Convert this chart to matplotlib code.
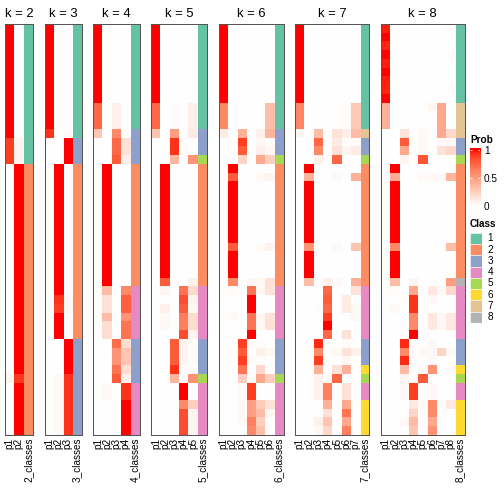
import numpy as np
import matplotlib
matplotlib.use("Agg")
import matplotlib.pyplot as plt

plt.rcParams['font.family'] = ['Liberation Sans', 'DejaVu Sans']

# class colours (RColorBrewer Set2)
class_colors = ["#66C2A5", "#FC8D62", "#8DA0CB", "#E78AC3",
                "#A6D854", "#FFD92F", "#E5C494", "#B3B3B3"]
class_labels = ["1", "2", "3", "4", "5", "6", "7", "8"]

# membership probabilities, one row per sample (top to bottom), columns p1..pk
prob_k2 = ([[1, 0]] * 13 + [[0.9, 0.05]] * 3 + [[0, 1]] * 24
           + [[0.05, 0.92]] + [[0, 1]] * 6)
class_k2 = [1] * 16 + [2] * 31

prob_k3 = ([[1, 0, 0]] * 12 + [[0.93, 0, 0.03]] + [[0, 0, 1]] * 3
           + [[0, 1, 0]] * 15 + [[0, 0.93, 0.03], [0, 0.9, 0.04]]
           + [[0, 1, 0]] * 3 + [[0, 0, 1]] * 4 + [[0, 0.03, 0.93]] * 7)
class_k3 = [1] * 13 + [3] * 3 + [2] * 20 + [3] * 11

prob_k4 = ([[1, 0, 0, 0]] * 9 + [[0.75, 0, 0.08, 0]] * 3 + [[0.3, 0, 0.6, 0]]
           + [[0, 0, 0.75, 0.15]] * 2 + [[0, 0, 0.8, 0.08]]
           + [[0, 1, 0, 0]] * 14
           + [[0, 0.35, 0, 0.6], [0, 0.15, 0, 0.78], [0, 0.15, 0, 0.78],
              [0, 0.35, 0, 0.55], [0, 0.17, 0, 0.7], [0, 0.17, 0, 0.7]]
           + [[0, 0, 0.72, 0.17], [0, 0, 0.55, 0.3], [0, 0, 0.55, 0.3],
              [0, 0, 0.7, 0.17], [0, 0, 0.8, 0.07]]
           + [[0, 0.03, 0, 0.93]] * 2 + [[0, 0, 0, 1]] * 4)
class_k4 = [1] * 12 + [3] * 4 + [2] * 14 + [4] * 6 + [3] * 5 + [4] * 6

prob_k5 = ([[1, 0, 0, 0, 0]] * 9 + [[0.75, 0, 0.02, 0, 0.08]] * 3
           + [[0.3, 0, 0.5, 0, 0.1]] + [[0, 0, 0.93, 0.02, 0]] * 2
           + [[0, 0, 0.38, 0, 0.55]] + [[0, 1, 0, 0, 0]] * 13
           + [[0, 0.8, 0, 0, 0.07]]
           + [[0, 0.05, 0, 0.7, 0.2], [0, 0, 0, 0.85, 0.06], [0, 0.07, 0, 0.8, 0.04],
              [0, 0.03, 0, 0.65, 0.18], [0, 0.03, 0, 0.65, 0.18], [0, 0, 0, 0.85, 0.06]]
           + [[0, 0, 0.8, 0.06, 0.02]] * 3 + [[0, 0, 0.93, 0.02, 0]]
           + [[0, 0, 0.38, 0, 0.55]] + [[0, 0, 0, 1, 0]] * 2
           + [[0, 0, 0, 0.6, 0.25]] + [[0, 0, 0, 0.85, 0.05]] * 3)
class_k5 = [1] * 12 + [3] * 3 + [5] + [2] * 14 + [4] * 6 + [3] * 4 + [5] + [4] * 6

prob_k6 = ([[1, 0, 0, 0, 0, 0]] * 9 + [[0.6, 0, 0, 0, 0, 0.33]] * 3
           + [[0.1, 0, 0.4, 0, 0.07, 0.38]] + [[0, 0, 0.9, 0, 0.04, 0.02]]
           + [[0, 0, 0.8, 0, 0.08, 0.04]] + [[0, 0, 0.22, 0, 0.45, 0.25]]
           + [[0, 1, 0, 0, 0, 0]] + [[0, 0.8, 0, 0, 0.03, 0.06]]
           + [[0, 1, 0, 0, 0, 0]] * 7 + [[0, 0.8, 0, 0, 0.02, 0.06]]
           + [[0, 1, 0, 0, 0, 0]] * 3 + [[0, 0.6, 0, 0.05, 0.04, 0.15]]
           + [[0, 0.02, 0, 0.7, 0.04, 0.15]] + [[0, 0, 0, 1, 0, 0]] * 2
           + [[0, 0.03, 0, 0.7, 0.04, 0.15], [0, 0, 0, 0.7, 0.04, 0.15]]
           + [[0, 0, 0, 1, 0, 0]]
           + [[0, 0, 0.9, 0.02, 0.02, 0], [0, 0, 0.8, 0, 0.08, 0.04],
              [0, 0, 0.9, 0.02, 0.02, 0], [0, 0, 0.7, 0, 0.2, 0]]
           + [[0, 0, 0.25, 0, 0.45, 0.25]] + [[0, 0, 0.03, 0.9, 0, 0]] * 2
           + [[0, 0, 0.03, 0.5, 0.27, 0.15], [0, 0, 0.03, 0.5, 0.35, 0.04],
              [0, 0, 0.03, 0.65, 0.25, 0], [0, 0, 0, 0.6, 0.33, 0]])
class_k6 = [1] * 12 + [3] * 3 + [5] + [2] * 14 + [4] * 6 + [3] * 4 + [5] + [4] * 6

prob_k7 = ([[1, 0, 0, 0, 0, 0, 0]] * 9 + [[0.62, 0, 0, 0, 0, 0.02, 0.28]] * 3
           + [[0.05, 0, 0.35, 0, 0.15, 0.08, 0.35]]
           + [[0, 0, 0.75, 0, 0.1, 0.02, 0.02]] + [[0, 0, 0.6, 0, 0.15, 0.05, 0.1]]
           + [[0, 0, 0.07, 0, 0.75, 0, 0]]
           + [[0, 1, 0, 0, 0, 0, 0]] + [[0, 0.4, 0, 0, 0.03, 0, 0.4]]
           + [[0, 1, 0, 0, 0, 0, 0]] * 7 + [[0, 0.55, 0, 0, 0.03, 0, 0.3]]
           + [[0, 1, 0, 0, 0, 0, 0]] * 3 + [[0, 0.35, 0, 0.07, 0.03, 0, 0.4]]
           + [[0, 0, 0, 0.75, 0, 0, 0.15], [0, 0, 0, 0.8, 0, 0.1, 0],
              [0, 0, 0.02, 0.75, 0, 0.1, 0.04], [0, 0, 0, 0.9, 0, 0, 0.04],
              [0, 0, 0, 1, 0, 0, 0], [0, 0, 0, 0.75, 0, 0.15, 0]]
           + [[0, 0, 0.95, 0, 0, 0.02, 0], [0, 0, 0.6, 0, 0.04, 0.15, 0.07],
              [0, 0, 0.9, 0, 0, 0.04, 0]]
           + [[0, 0, 0.4, 0, 0.15, 0.4, 0]] + [[0, 0, 0.07, 0, 0.75, 0, 0]]
           + [[0, 0, 0.07, 0.65, 0, 0.15, 0]] * 2
           + [[0, 0, 0, 0.4, 0, 0.45, 0.02], [0, 0, 0, 0.15, 0, 0.7, 0],
              [0, 0, 0.07, 0.3, 0, 0.45, 0], [0, 0, 0.04, 0.2, 0, 0.65, 0]])
class_k7 = ([1] * 12 + [7] + [3] * 2 + [5] + [2] * 14 + [4] * 6 + [3] * 3
            + [6] + [5] + [4] * 2 + [6] * 4)

prob_k8 = ([[0.97, 0, 0, 0, 0, 0, 0, 0.02], [1, 0, 0, 0, 0, 0, 0, 0],
            [0.96, 0, 0, 0, 0, 0, 0, 0], [1, 0, 0, 0, 0, 0, 0, 0.02],
            [0.97, 0, 0, 0, 0, 0, 0, 0], [1, 0, 0, 0, 0, 0, 0, 0],
            [0.97, 0, 0, 0, 0, 0, 0, 0], [0.96, 0, 0, 0, 0, 0, 0, 0.02],
            [1, 0, 0, 0, 0, 0, 0, 0]]
           + [[0.4, 0, 0, 0, 0, 0.05, 0.45, 0]] + [[0.4, 0, 0, 0, 0, 0, 0.45, 0]] * 2
           + [[0, 0, 0.15, 0, 0.03, 0, 0.45, 0.2]]
           + [[0, 0, 0.8, 0, 0.03, 0, 0.03, 0.03]]
           + [[0, 0, 0.45, 0, 0.03, 0, 0.15, 0.2]]
           + [[0, 0, 0.05, 0, 0.82, 0, 0, 0]]
           + [[0, 1, 0, 0, 0, 0, 0, 0]] + [[0, 0.42, 0, 0, 0.03, 0.03, 0.03, 0.38]]
           + [[0, 1, 0, 0, 0, 0, 0, 0]] * 7 + [[0, 0.6, 0, 0, 0, 0, 0, 0.35]]
           + [[0, 1, 0, 0, 0, 0, 0, 0]] * 3 + [[0, 0.35, 0, 0.05, 0, 0, 0, 0.5]]
           + [[0, 0.02, 0, 0.45, 0, 0.12, 0.03, 0.2], [0, 0, 0.02, 0.93, 0, 0.03, 0, 0],
              [0, 0.03, 0, 0.93, 0, 0, 0, 0], [0, 0, 0, 0.6, 0, 0.12, 0.03, 0.12],
              [0, 0, 0, 0.6, 0, 0.12, 0.03, 0.12], [0, 0, 0, 1, 0, 0, 0, 0]]
           + [[0, 0, 0.95, 0, 0, 0.03, 0, 0], [0, 0, 0.6, 0, 0.03, 0.03, 0.22, 0.03],
              [0, 0, 0.95, 0, 0, 0.03, 0, 0]]
           + [[0, 0, 0.35, 0, 0.03, 0.55, 0, 0.03]] + [[0, 0, 0.05, 0, 0.8, 0, 0, 0]]
           + [[0, 0, 0.03, 0.9, 0, 0.03, 0, 0]] * 2
           + [[0, 0, 0, 0.12, 0.03, 0.6, 0, 0.12], [0, 0, 0, 0.22, 0, 0.6, 0, 0],
              [0, 0, 0.03, 0.35, 0, 0.45, 0, 0], [0, 0, 0, 0.3, 0, 0.55, 0, 0]])
class_k8 = ([1] * 9 + [7] * 4 + [3] * 2 + [5] + [2] * 13 + [8] + [4] * 6 + [3] * 3
            + [6] + [5] + [4] * 2 + [6] * 4)

panels = [(2, prob_k2, class_k2), (3, prob_k3, class_k3), (4, prob_k4, class_k4),
          (5, prob_k5, class_k5), (6, prob_k6, class_k6), (7, prob_k7, class_k7),
          (8, prob_k8, class_k8)]


# white -> red colour ramp interpolated in LAB space (like colorRamp2)
def lab_to_rgb(L, a, b):
    fy = (L + 16) / 116
    fx = fy + a / 500
    fz = fy - b / 200
    def finv(t):
        return np.where(t > 6 / 29, t ** 3, 3 * (6 / 29) ** 2 * (t - 4 / 29))
    xyz = np.vstack([0.95047 * finv(fx), finv(fy), 1.08883 * finv(fz)])
    M = np.array([[3.2406, -1.5372, -0.4986],
                  [-0.9689, 1.8758, 0.0415],
                  [0.0557, -0.2040, 1.0570]])
    lin = np.clip(M @ xyz, 0, 1)
    srgb = np.where(lin <= 0.0031308, 12.92 * lin, 1.055 * lin ** (1 / 2.4) - 0.055)
    return np.clip(srgb.T, 0, 1)


def prob_color(v):
    v = np.asarray(v, dtype=float)
    return lab_to_rgb(100 + v * (53.24 - 100), v * 80.09, v * 67.20)


W = H = 504
fig = plt.figure(figsize=(7, 7), dpi=72)

col_w = 9.27
gap = 11.7
top, bottom = 24, 435
x = 5.0
for k, prob, cls in panels:
    prob = np.array(prob, dtype=float)
    nrow = prob.shape[0]
    ncol = k + 1
    rgb = np.zeros((nrow, ncol, 3))
    for j in range(k):
        rgb[:, j, :] = prob_color(prob[:, j])
    for i, c in enumerate(cls):
        rgb[i, k, :] = matplotlib.colors.to_rgb(class_colors[c - 1])
    pw = ncol * col_w
    ax = fig.add_axes([x / W, 1 - bottom / H, pw / W, (bottom - top) / H])
    ax.imshow(rgb, aspect='auto', interpolation='nearest')
    ax.set_xticks(range(ncol))
    ax.set_xticklabels(["p%d" % (j + 1) for j in range(k)] + ["%d_classes" % k],
                       rotation=90, fontsize=10)
    ax.tick_params(axis='x', length=0, pad=3)
    ax.set_yticks([])
    for s in ax.spines.values():
        s.set_color('#555555')
        s.set_linewidth(1)
    ax.set_title("k = %d" % k, fontsize=13, pad=7)
    x += pw + gap

# Prob legend
fig.text(470 / W, 1 - 140 / H, "Prob", fontsize=10, fontweight='bold', va='center')
cax = fig.add_axes([470 / W, 1 - 206 / H, 10 / W, 58 / H])
grad = np.clip(np.linspace(0, 1.036, 120), 0, 1)
cax.imshow(prob_color(grad)[:, None, :], aspect='auto', origin='lower',
           extent=(0, 1, 0, 1.036))
cax.set_xlim(0, 1)
cax.set_ylim(0, 1.036)
cax.hlines([0.5, 1], 0, 0.2, color='white', lw=0.8)
cax.hlines([0.5, 1], 0.8, 1, color='white', lw=0.8)
cax.set_xticks([])
cax.yaxis.tick_right()
cax.set_yticks([0, 0.5, 1])
cax.set_yticklabels(["0", "0.5", "1"], fontsize=10)
cax.tick_params(axis='y', length=0, pad=4)
for s in cax.spines.values():
    s.set_visible(False)

# Class legend
fig.text(470 / W, 1 - 224 / H, "Class", fontsize=10, fontweight='bold', va='center')
lax = fig.add_axes([470 / W, 1 - 323 / H, 12 / W, 90.4 / H])
lax.barh(range(len(class_colors)), 1, height=1, left=0, color=class_colors,
         edgecolor='white', linewidth=0.5)
lax.set_ylim(len(class_colors) - 0.5, -0.5)
lax.set_xlim(0, 1)
for i, lab in enumerate(class_labels):
    lax.text(1.45, i, lab, fontsize=10, va='center', ha='left')
lax.axis('off')

fig.savefig("out.png", dpi=72)
